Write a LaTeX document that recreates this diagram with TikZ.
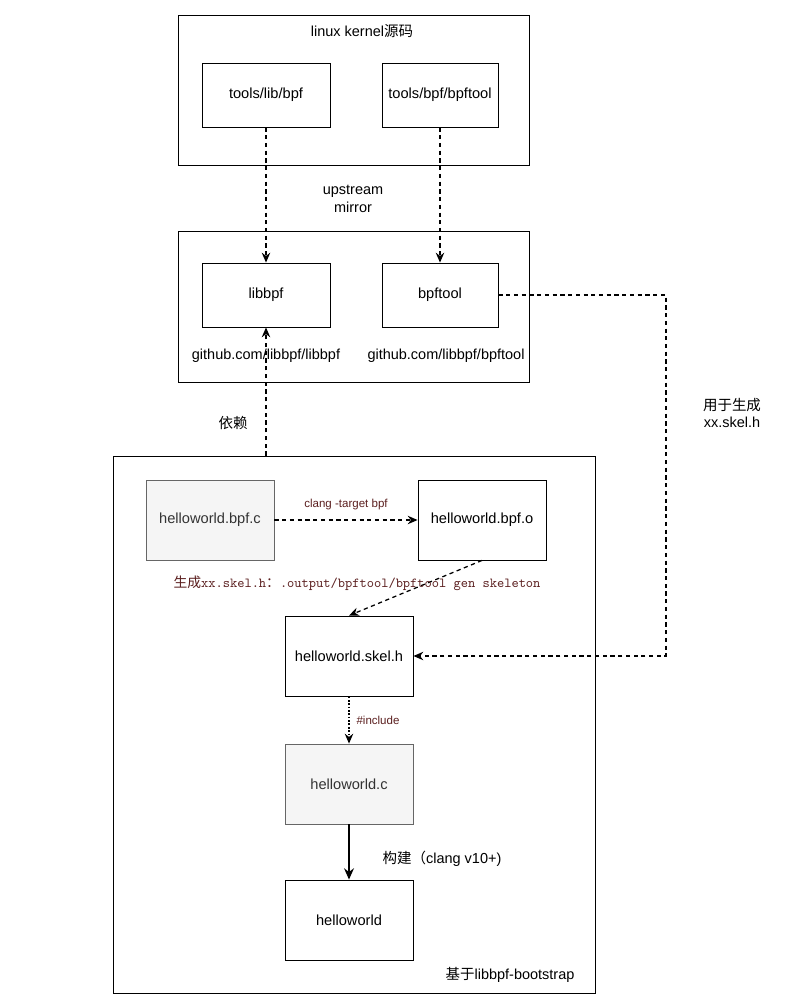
\documentclass[tikz,border=0pt]{standalone}
\usepackage{fontspec}
\setmainfont{Liberation Sans}
\newfontfamily\cjk{Noto Sans CJK SC}
\usetikzlibrary{arrows.meta}
\definecolor{notered}{HTML}{5A1E1E}
\definecolor{srcfill}{HTML}{F5F5F5}
\definecolor{srcline}{HTML}{666666}
\tikzset{grpbox/.style={draw, line width=0.6pt, inner sep=0pt}}
\tikzset{stepbox/.style={draw, line width=0.6pt, fill=white, inner sep=0pt, minimum width=3.2cm, minimum height=2cm, font=\fontsize{10.4}{12}\selectfont}}
\tikzset{srcbox/.style={stepbox, draw=srcline, fill=srcfill, text=black!80}}
\tikzset{txt/.style={align=center, font=\fontsize{10.3}{12.3}\selectfont}}
\tikzset{note/.style={text=notered, font=\fontsize{8.2}{10}\selectfont}}
\tikzset{dep/.style={line width=0.9pt, dash pattern=on 3pt off 2.5pt, -{Stealth[length=7pt,width=6pt]}}}

\begin{document}
\begin{tikzpicture}[x=0.025cm, y=-0.025cm]
\useasboundingbox (0,0) rectangle (804,1004);

% linux kernel
\node[grpbox, minimum width=8.775cm, minimum height=3.75cm] (kernel) at (353.5,90) {};
\node[txt] (kerneltitle) at (362,31) {linux kernel{\cjk 源码}};
\node[stepbox, minimum height=1.6cm] (libsrc) at (266,95) {tools/lib/bpf};
\node[stepbox, minimum width=2.9cm, minimum height=1.6cm] (toolsrc) at (440,95) {tools/bpf/bpftool};

\node[txt] (mirror) at (353,199) {upstream\\mirror};

% mirrors on github
\node[grpbox, minimum width=8.775cm, minimum height=3.775cm] (mirrors) at (353.5,306.5) {};
\node[stepbox, minimum height=1.6cm] (libbpf) at (266,295) {libbpf};
\node[stepbox, minimum width=2.9cm, minimum height=1.6cm] (bpftool) at (440,295) {bpftool};
\node[txt] (libbpfurl) at (266,356) {github.com/libbpf/libbpf};
\node[txt] (bpftoolurl) at (446,356) {github.com/libbpf/bpftool};

\draw[dep] (libsrc) -- (libbpf);
\draw[dep] (toolsrc) -- (bpftool);

% libbpf-bootstrap
\node[grpbox, minimum width=12.05cm, minimum height=13.425cm] (boot) at (354,724.5) {};
\node[txt] (boottitle) at (510,975) {{\cjk 基于}libbpf-bootstrap};
\node[txt] (dependtxt) at (233,423) {\cjk 依赖};
\draw[dep] (boot.north -| libbpf.south) -- (libbpf.south);

\node[srcbox] (bpfc) at (210,520) {helloworld.bpf.c};
\node[stepbox] (bpfo) at (482,520) {helloworld.bpf.o};
\node[stepbox] (skel) at (349,656) {helloworld.skel.h};
\node[srcbox] (mainc) at (349,784) {helloworld.c};
\node[stepbox] (app) at (349,920) {helloworld};

\draw[dep] (bpfc) -- (bpfo);
\node[note] (clangtxt) at (346,505) {clang -target bpf};

\draw[dep] (bpfo.south) -- (skel.north);
\node[note, font=\ttfamily\fontsize{9.8}{11}\selectfont] (gentxt) at (357,583) {{\cjk 生成}xx.skel.h{\cjk ：}.output/bpftool/bpftool gen skeleton};

\coordinate (turn) at (666,295);
\draw[dep] (bpftool.east) -- (turn) |- (skel.east);
\node[txt] (usetxt) at (732,413) {{\cjk 用于生成}\\xx.skel.h};

\draw[line width=0.9pt, dash pattern=on 1.2pt off 1.2pt, -{Stealth[length=7pt,width=6pt]}] (skel) -- (mainc);
\node[note] (inctxt) at (378,720) {\#include};

\draw[line width=1.2pt, -{Stealth[length=8pt,width=7pt]}] (mainc) -- (app);
\node[txt] (buildtxt) at (442,859) {{\cjk 构建（}clang v10+)};
\end{tikzpicture}
\end{document}
